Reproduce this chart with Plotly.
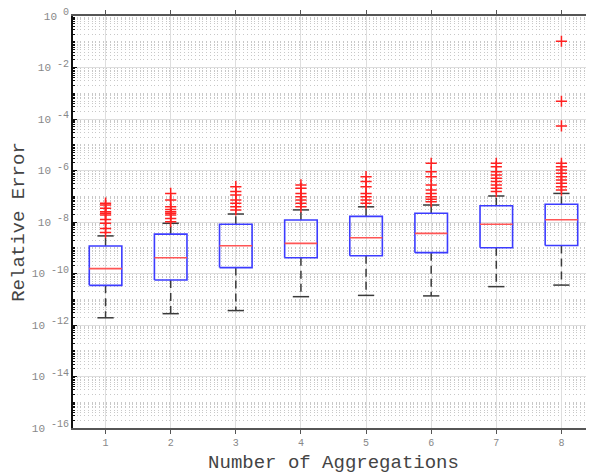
import plotly.graph_objects as go

# ---- data (log10 of relative error) ----
groups = [1, 2, 3, 4, 5, 6, 7, 8]
q1_log = [-10.46, -10.25, -9.77, -9.39, -9.31, -9.19, -9.00, -8.91]
med_log = [-9.81, -9.39, -8.92, -8.83, -8.61, -8.44, -8.09, -7.91]
q3_log = [-8.93, -8.47, -8.09, -7.92, -7.78, -7.66, -7.37, -7.31]
wlo_log = [-11.72, -11.56, -11.44, -10.90, -10.85, -10.87, -10.51, -10.45]
whi_log = [-8.54, -8.05, -7.69, -7.53, -7.41, -7.34, -6.99, -6.89]
outliers_log = [
    [-8.41, -8.25, -8.05, -7.90, -7.73, -7.66, -7.60, -7.47, -7.34, -7.27],
    [-7.99, -7.86, -7.73, -7.66, -7.60, -7.51, -7.41, -7.15, -6.89],
    [-7.53, -7.41, -7.27, -7.15, -6.95, -6.82, -6.63],
    [-7.41, -7.27, -7.15, -7.02, -6.89, -6.69, -6.56],
    [-7.27, -7.15, -7.02, -6.89, -6.63, -6.43, -6.24],
    [-7.21, -7.12, -7.02, -6.89, -6.76, -6.56, -6.24, -6.05, -5.72],
    [-6.82, -6.69, -6.56, -6.43, -6.30, -6.17, -6.05, -5.85, -5.72],
    [-6.76, -6.63, -6.50, -6.37, -6.24, -6.11, -5.98, -5.85, -5.72, -4.27, -3.31, -0.98],
]
ytick_exps = [0, -2, -4, -6, -8, -10, -12, -14, -16]

BOX_HALF = 0.25
CAP_HALF = 0.125


def p(e):
    return 10.0 ** e


bx, by = [], []
mx, my = [], []
wx, wy = [], []
cx, cy = [], []
ox, oy = [], []
for i, g in enumerate(groups):
    a, m, b = p(q1_log[i]), p(med_log[i]), p(q3_log[i])
    lo, hi = p(wlo_log[i]), p(whi_log[i])
    bx += [g - BOX_HALF, g + BOX_HALF, g + BOX_HALF, g - BOX_HALF, g - BOX_HALF, None]
    by += [a, a, b, b, a, None]
    mx += [g - BOX_HALF, g + BOX_HALF, None]
    my += [m, m, None]
    wx += [g, g, None, g, g, None]
    wy += [b, hi, None, a, lo, None]
    cx += [g - CAP_HALF, g + CAP_HALF, None, g - CAP_HALF, g + CAP_HALF, None]
    cy += [hi, hi, None, lo, lo, None]
    for v in outliers_log[i]:
        ox.append(g)
        oy.append(p(v))

fig = go.Figure()
fig.add_trace(go.Scatter(x=wx, y=wy, mode="lines",
                         line=dict(color="#3a3a3a", width=1.5, dash="8px,5px"),
                         hoverinfo="skip"))
fig.add_trace(go.Scatter(x=cx, y=cy, mode="lines",
                         line=dict(color="#3a3a3a", width=1.5), hoverinfo="skip"))
fig.add_trace(go.Scatter(x=bx, y=by, mode="lines",
                         line=dict(color="#3c3cff", width=1.6), hoverinfo="skip"))
fig.add_trace(go.Scatter(x=mx, y=my, mode="lines",
                         line=dict(color="#ff5555", width=1.6), hoverinfo="skip"))
fig.add_trace(go.Scatter(x=ox, y=oy, mode="markers",
                         marker=dict(symbol="cross-thin", size=8,
                                     line=dict(color="#ff2020", width=1.5)),
                         hoverinfo="skip"))

minor_vals = []
for n in range(-16, 0):
    if n % 2 != 0:
        minor_vals.append(10.0 ** n)
    for k in range(2, 10):
        minor_vals.append(k * 10.0 ** n)

# the page body adds an 8px offset, so the figure is sized/margined to compensate
fig.update_layout(
    width=586, height=466,
    margin=dict(l=65, r=0, t=8, b=46),
    paper_bgcolor="white", plot_bgcolor="white",
    showlegend=False,
    font=dict(family="Liberation Mono", color="#888888", size=10),
)
fig.update_xaxes(
    range=[0.5, 8.5], tickvals=groups, ticktext=[str(g) for g in groups],
    showgrid=True, gridcolor="#dedede", gridwidth=1,
    showline=True, linecolor="#555555", linewidth=1.5, mirror="ticks",
    ticks="outside", ticklen=4, tickcolor="#555555",
    tickfont=dict(family="Liberation Mono", size=10, color="#888888"),
    zeroline=False,
    title=dict(text="Number of Aggregations", standoff=7,
               font=dict(family="Liberation Mono", size=19, color="#444444")),
    automargin=False,
)
fig.update_yaxes(
    type="log", range=[-16, 0],
    tickvals=[p(e) for e in ytick_exps],
    ticktext=["10<sup><span style='font-size:10px'> %d</span></sup>" % e
              for e in ytick_exps],
    ticklabeloverflow="allow",
    showgrid=True, gridcolor="#dedede", gridwidth=1,
    showline=True, linecolor="#111111", linewidth=1.5,
    ticks="inside", ticklen=4, tickcolor="#111111",
    minor=dict(tickvals=minor_vals, showgrid=True, gridcolor="#c8c8c8",
               griddash="1px,2.7px", gridwidth=1, ticks="inside", ticklen=2,
               tickcolor="#111111"),
    tickfont=dict(family="Liberation Mono", size=11, color="#888888"),
    zeroline=False,
    title=dict(text="Relative Error", standoff=12,
               font=dict(family="Liberation Mono", size=19, color="#444444")),
    automargin=False,
)

fig.write_html("out.html")
